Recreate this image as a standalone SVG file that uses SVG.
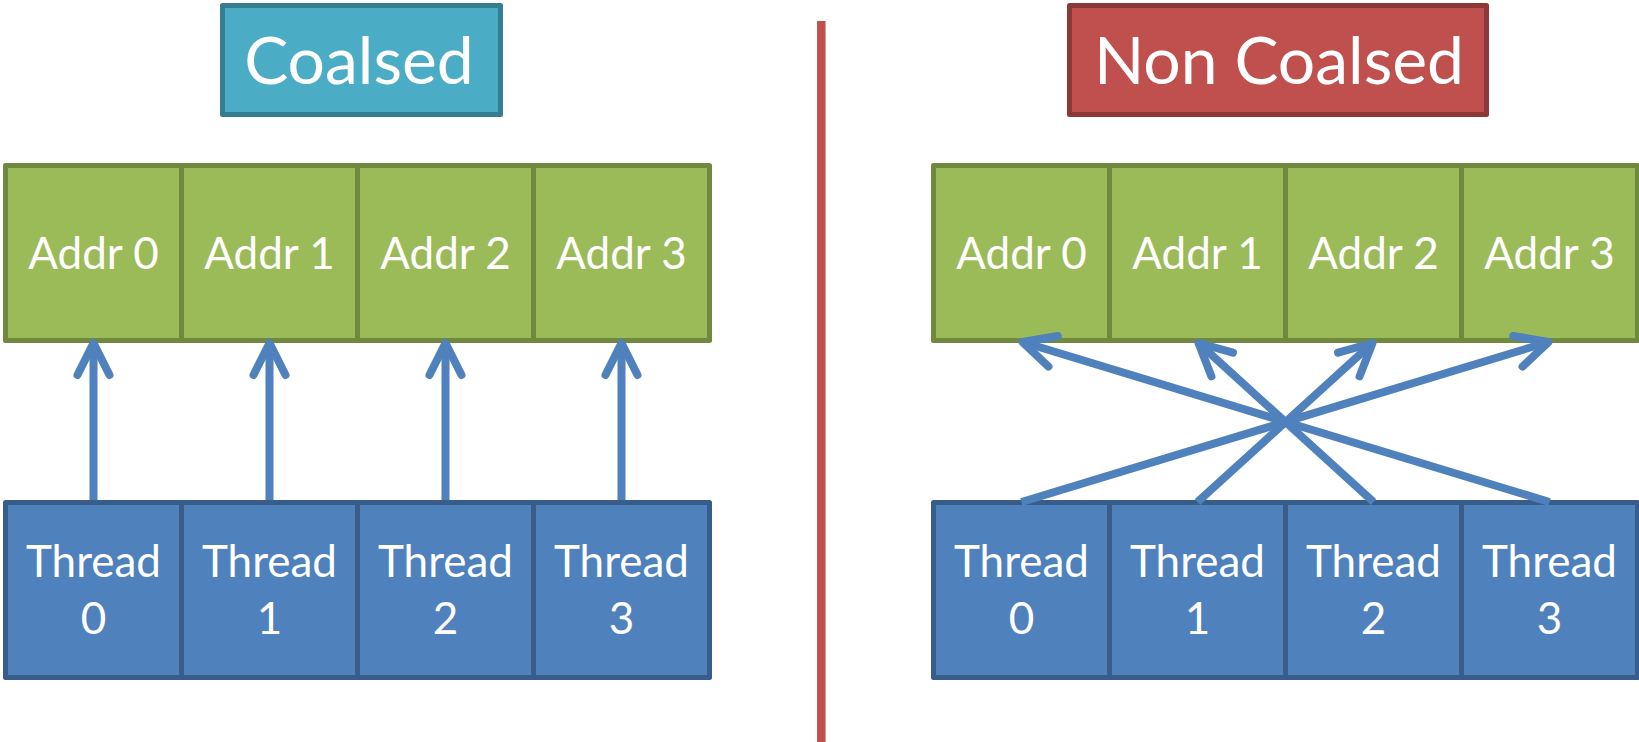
<svg xmlns="http://www.w3.org/2000/svg" width="1639" height="742" viewBox="0 0 1639 742">
  <style>
    .lbl { font-family: Lato, "Liberation Sans", sans-serif; fill: #ffffff; text-anchor: middle; }
    .cell { font-size: 44px; }
    .title { font-size: 66px; }
    .addr rect { fill: #9BBB59; stroke: #71893F; stroke-width: 5; stroke-linejoin: round; }
    .thread rect { fill: #4F81BD; stroke: #385D8A; stroke-width: 5; stroke-linejoin: round; }
    .arrow { fill: none; stroke: #4F81BD; stroke-width: 8; marker-end: url(#head); }
  </style>
  <defs>
    <marker id="head" markerUnits="userSpaceOnUse" viewBox="-40 -24 48 48" refX="0" refY="0" markerWidth="48" markerHeight="48" orient="auto" overflow="visible">
      <path d="M -32,-16 L 0,0 L -32,16" fill="none" stroke="#4F81BD" stroke-width="8" stroke-linecap="round" stroke-linejoin="round"/>
    </marker>
  </defs>

  <rect width="1639" height="742" fill="#ffffff"/>

  <!-- headings -->
  <g id="title-coalsed">
    <rect x="222.5" y="5.5" width="278" height="109" fill="#4BACC6" stroke="#357D91" stroke-width="5" stroke-linejoin="round"/>
    <text class="lbl title" x="359" y="84">Coalsed</text>
  </g>
  <g id="title-non-coalsed">
    <rect x="1069.5" y="5.5" width="417" height="109" fill="#C0504D" stroke="#8C3836" stroke-width="5" stroke-linejoin="round"/>
    <text class="lbl title" x="1279" y="84">Non Coalsed</text>
  </g>

  <!-- separator between the two halves -->
  <line id="divider" x1="821.3" y1="21" x2="821.3" y2="742" stroke="#C0504D" stroke-width="8.5"/>

  <!-- left half: coalesced access -->
  <g id="L-addr0" class="addr"><rect x="5.5" y="165.5" width="176" height="175"/><text class="lbl cell" x="93.5" y="269">Addr 0</text></g>
  <g id="L-addr1" class="addr"><rect x="181.5" y="165.5" width="176" height="175"/><text class="lbl cell" x="269.5" y="269">Addr 1</text></g>
  <g id="L-addr2" class="addr"><rect x="357.5" y="165.5" width="176" height="175"/><text class="lbl cell" x="445.5" y="269">Addr 2</text></g>
  <g id="L-addr3" class="addr"><rect x="533.5" y="165.5" width="176" height="175"/><text class="lbl cell" x="621.5" y="269">Addr 3</text></g>

  <g id="L-thread0" class="thread"><rect x="5.5" y="502.5" width="176" height="175"/><text class="lbl cell" x="93.5" y="577">Thread</text><text class="lbl cell" x="93.5" y="634">0</text></g>
  <g id="L-thread1" class="thread"><rect x="181.5" y="502.5" width="176" height="175"/><text class="lbl cell" x="269.5" y="577">Thread</text><text class="lbl cell" x="269.5" y="634">1</text></g>
  <g id="L-thread2" class="thread"><rect x="357.5" y="502.5" width="176" height="175"/><text class="lbl cell" x="445.5" y="577">Thread</text><text class="lbl cell" x="445.5" y="634">2</text></g>
  <g id="L-thread3" class="thread"><rect x="533.5" y="502.5" width="176" height="175"/><text class="lbl cell" x="621.5" y="577">Thread</text><text class="lbl cell" x="621.5" y="634">3</text></g>

  <!-- right half: non-coalesced access -->
  <g id="R-addr0" class="addr"><rect x="933.5" y="165.5" width="176" height="175"/><text class="lbl cell" x="1021.5" y="269">Addr 0</text></g>
  <g id="R-addr1" class="addr"><rect x="1109.5" y="165.5" width="176" height="175"/><text class="lbl cell" x="1197.5" y="269">Addr 1</text></g>
  <g id="R-addr2" class="addr"><rect x="1285.5" y="165.5" width="176" height="175"/><text class="lbl cell" x="1373.5" y="269">Addr 2</text></g>
  <g id="R-addr3" class="addr"><rect x="1461.5" y="165.5" width="176" height="175"/><text class="lbl cell" x="1549.5" y="269">Addr 3</text></g>

  <g id="R-thread0" class="thread"><rect x="933.5" y="502.5" width="176" height="175"/><text class="lbl cell" x="1021.5" y="577">Thread</text><text class="lbl cell" x="1021.5" y="634">0</text></g>
  <g id="R-thread1" class="thread"><rect x="1109.5" y="502.5" width="176" height="175"/><text class="lbl cell" x="1197.5" y="577">Thread</text><text class="lbl cell" x="1197.5" y="634">1</text></g>
  <g id="R-thread2" class="thread"><rect x="1285.5" y="502.5" width="176" height="175"/><text class="lbl cell" x="1373.5" y="577">Thread</text><text class="lbl cell" x="1373.5" y="634">2</text></g>
  <g id="R-thread3" class="thread"><rect x="1461.5" y="502.5" width="176" height="175"/><text class="lbl cell" x="1549.5" y="577">Thread</text><text class="lbl cell" x="1549.5" y="634">3</text></g>

  <!-- connectors: thread -> address -->
  <g id="connectors">
    <line class="arrow" x1="93.5" y1="500" x2="93.5" y2="343"/>
    <line class="arrow" x1="269.5" y1="500" x2="269.5" y2="343"/>
    <line class="arrow" x1="445.5" y1="500" x2="445.5" y2="343"/>
    <line class="arrow" x1="621.5" y1="500" x2="621.5" y2="343"/>

    <line class="arrow" x1="1021.5" y1="502" x2="1548.5" y2="342"/>
    <line class="arrow" x1="1197.5" y1="502" x2="1372.5" y2="343"/>
    <line class="arrow" x1="1373.5" y1="502" x2="1198.5" y2="343"/>
    <line class="arrow" x1="1549.5" y1="502" x2="1022.5" y2="342"/>
  </g>
</svg>
